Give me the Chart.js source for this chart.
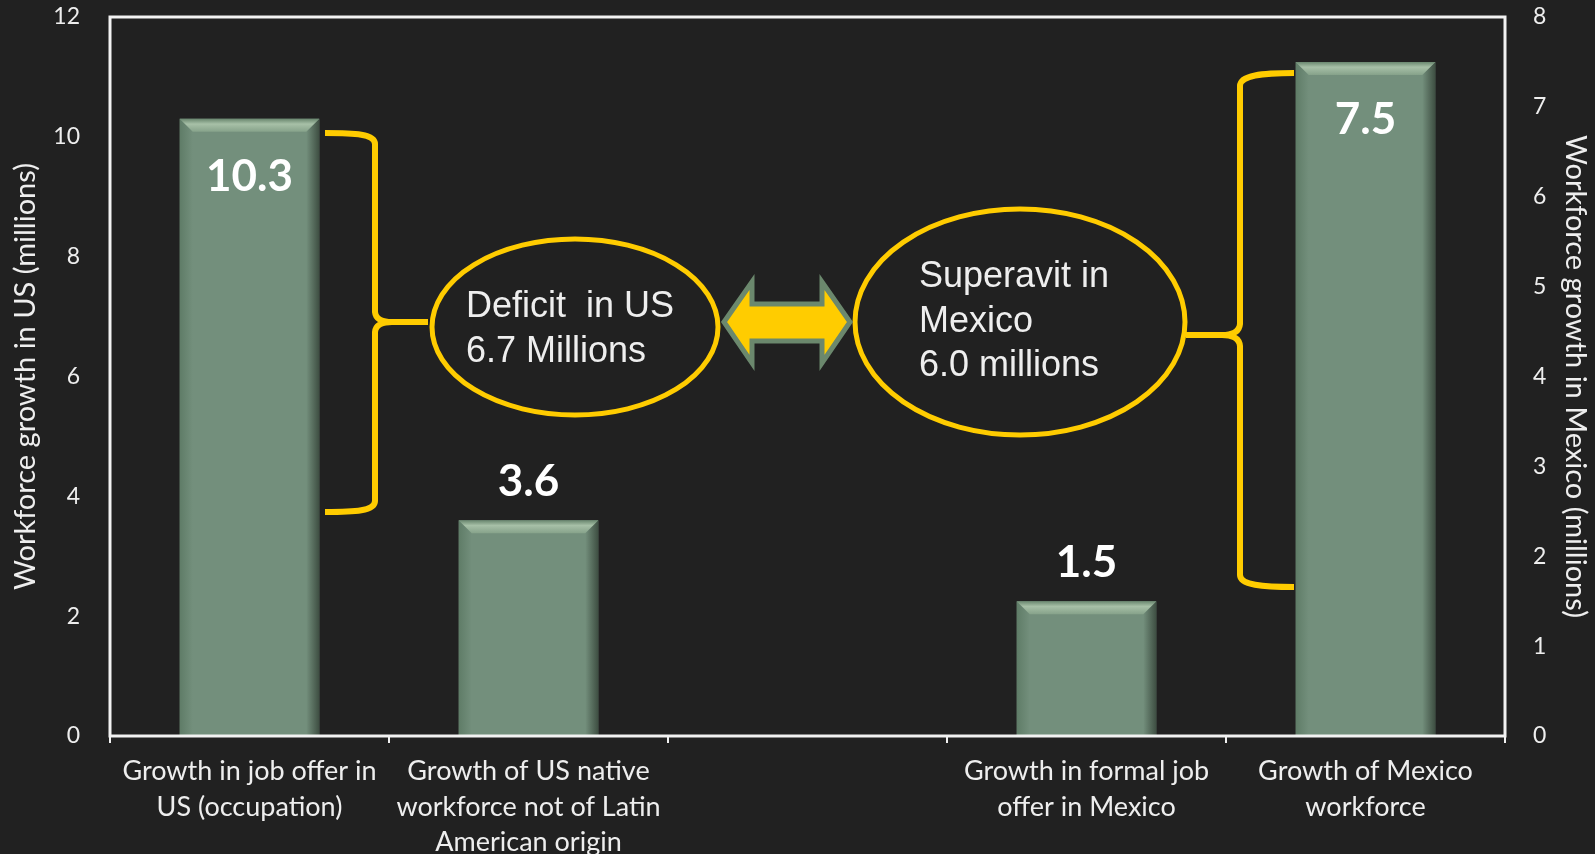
<!DOCTYPE html>
<html>
<head>
<meta charset="utf-8">
<title>Workforce growth: US vs Mexico</title>
<script src="https://cdn.jsdelivr.net/npm/chart.js@4/dist/chart.umd.min.js"></script>
<style>
  html, body { margin: 0; padding: 0; background: #212121; }
  #wrap { width: 1595px; height: 854px; }
</style>
</head>
<body>
<div id="wrap"><canvas id="chart" width="1595" height="854"></canvas></div>
<script>
// Categories (the middle slot is an intentional gap between the two countries)
const categories = [
  ['Growth in job offer in', 'US (occupation)'],
  ['Growth of US native', 'workforce not of Latin', 'American origin'],
  '',
  ['Growth in formal job', 'offer in Mexico'],
  ['Growth of Mexico', 'workforce']
];

// Millions of workers; US bars use the left axis, Mexico bars the right axis
const usGrowth = [10.3, 3.6, null, null, null];
const mexicoGrowth = [null, null, null, 1.5, 7.5];

// Axis ranges
const usAxis = { min: 0, max: 12, step: 2 };
const mexicoAxis = { min: 0, max: 8, step: 1 };

// Callout texts
const deficitText = ['Deficit  in US', '6.7 Millions'];
const superavitText = ['Superavit in', 'Mexico', '6.0 millions'];

const BG = '#212121';
const BAR = '#738f7c';
const GOLD = '#ffcc00';
const TEXT = '#eeeeee';

const bgPlugin = {
  id: 'bg',
  beforeDraw(chart) {
    const ctx = chart.ctx;
    ctx.save();
    ctx.fillStyle = BG;
    ctx.fillRect(0, 0, chart.width, chart.height);
    ctx.restore();
  }
};

// Bevelled look for the bars plus the value labels
const barStylePlugin = {
  id: 'barStyle',
  afterDatasetsDraw(chart) {
    const ctx = chart.ctx;
    chart.data.datasets.forEach((ds, di) => {
      const meta = chart.getDatasetMeta(di);
      meta.data.forEach((el, i) => {
        const v = ds.data[i];
        if (v === null || v === undefined) return;
        const { x, y, base, width } = el.getProps(['x', 'y', 'base', 'width'], true);
        const l = x - width / 2, r = x + width / 2;
        const b = 13;
        ctx.save();
        // left edge
        let g = ctx.createLinearGradient(l, 0, l + b, 0);
        g.addColorStop(0, '#5f7c67');
        g.addColorStop(1, BAR);
        ctx.fillStyle = g;
        ctx.beginPath();
        ctx.moveTo(l, y); ctx.lineTo(l + b, y + b); ctx.lineTo(l + b, base); ctx.lineTo(l, base);
        ctx.closePath(); ctx.fill();
        // right edge
        g = ctx.createLinearGradient(r - b, 0, r, 0);
        g.addColorStop(0, BAR);
        g.addColorStop(1, '#3e4e42');
        ctx.fillStyle = g;
        ctx.beginPath();
        ctx.moveTo(r, y); ctx.lineTo(r - b, y + b); ctx.lineTo(r - b, base); ctx.lineTo(r, base);
        ctx.closePath(); ctx.fill();
        // top edge
        g = ctx.createLinearGradient(0, y, 0, y + b);
        g.addColorStop(0, '#6a876f');
        g.addColorStop(0.4, '#a7c0a7');
        g.addColorStop(1, '#86a28a');
        ctx.fillStyle = g;
        ctx.beginPath();
        ctx.moveTo(l, y); ctx.lineTo(r, y); ctx.lineTo(r - b, y + b); ctx.lineTo(l + b, y + b);
        ctx.closePath(); ctx.fill();
        // value label
        const tall = (base - y) > 300;
        ctx.fillStyle = '#ffffff';
        ctx.font = 'bold 44px Lato';
        ctx.textAlign = 'center';
        ctx.textBaseline = 'middle';
        ctx.fillText(v.toFixed(1), x, tall ? y + 58 : y - 38);
        ctx.restore();
      });
    });
  }
};

// Plot frame, braces, ellipses and the double arrow
const calloutPlugin = {
  id: 'callouts',
  afterDraw(chart) {
    const ctx = chart.ctx;
    const a = chart.chartArea;
    ctx.save();
    // frame
    ctx.strokeStyle = '#f2f2f2';
    ctx.lineWidth = 3;
    ctx.strokeRect(a.left, a.top, a.right - a.left, a.bottom - a.top);

    ctx.strokeStyle = GOLD;
    ctx.lineWidth = 6;
    ctx.lineCap = 'butt';
    ctx.lineJoin = 'round';
    // left brace
    ctx.beginPath();
    ctx.moveTo(325, 133);
    ctx.bezierCurveTo(355, 133, 375, 134, 375, 144);
    ctx.lineTo(375, 312);
    ctx.quadraticCurveTo(376, 322, 392, 322);
    ctx.lineTo(428, 322);
    ctx.moveTo(392, 322);
    ctx.quadraticCurveTo(376, 322, 375, 332);
    ctx.lineTo(375, 501);
    ctx.bezierCurveTo(375, 511, 355, 512, 325, 512);
    ctx.stroke();
    // right brace
    ctx.beginPath();
    ctx.moveTo(1294, 73);
    ctx.bezierCurveTo(1262, 73, 1240, 75, 1240, 86);
    ctx.lineTo(1240, 324);
    ctx.quadraticCurveTo(1239, 335, 1222, 335);
    ctx.lineTo(1186, 335);
    ctx.moveTo(1222, 335);
    ctx.quadraticCurveTo(1239, 335, 1240, 346);
    ctx.lineTo(1240, 575);
    ctx.bezierCurveTo(1240, 585, 1262, 587, 1294, 587);
    ctx.stroke();

    // ellipses
    ctx.lineWidth = 5;
    ctx.beginPath();
    ctx.ellipse(575, 327, 143, 88, 0, 0, Math.PI * 2);
    ctx.stroke();
    ctx.beginPath();
    ctx.ellipse(1020, 322, 165, 113, 0, 0, Math.PI * 2);
    ctx.stroke();

    // double arrow
    ctx.beginPath();
    ctx.moveTo(724, 322);
    ctx.lineTo(752, 282);
    ctx.lineTo(752, 304);
    ctx.lineTo(822, 304);
    ctx.lineTo(822, 282);
    ctx.lineTo(850, 322);
    ctx.lineTo(822, 363);
    ctx.lineTo(822, 341);
    ctx.lineTo(752, 341);
    ctx.lineTo(752, 363);
    ctx.closePath();
    ctx.fillStyle = GOLD;
    ctx.fill();
    ctx.lineJoin = 'miter';
    ctx.lineWidth = 5;
    ctx.strokeStyle = '#6b886d';
    ctx.stroke();

    // callout texts
    ctx.fillStyle = TEXT;
    ctx.font = '36px "Liberation Sans"';
    ctx.textAlign = 'left';
    ctx.textBaseline = 'alphabetic';
    deficitText.forEach((t, i) => ctx.fillText(t, 466, 317 + i * 45));
    superavitText.forEach((t, i) => ctx.fillText(t, 919, 287 + i * 44.5));
    ctx.restore();
  }
};

const tickFont = { family: 'Lato', size: 23 };
const titleFont = { family: 'Lato', size: 29 };

// keep the vertical axes from reserving extra room above/below the plot
function fixVertical(width) {
  return function (s) {
    s.width = width;
    s.paddingTop = 0;
    s.paddingBottom = 0;
  };
}

new Chart(document.getElementById('chart'), {
  type: 'bar',
  data: {
    labels: categories,
    datasets: [
      { label: 'US', data: usGrowth, yAxisID: 'y', backgroundColor: BAR, borderWidth: 0 },
      { label: 'Mexico', data: mexicoGrowth, yAxisID: 'y1', backgroundColor: BAR, borderWidth: 0 }
    ]
  },
  options: {
    responsive: false,
    devicePixelRatio: 1,
    animation: false,
    layout: { padding: { top: 17, left: 0, right: 0, bottom: 0 } },
    datasets: { bar: { grouped: false, categoryPercentage: 1, barPercentage: 0.5 } },
    plugins: { legend: { display: false }, tooltip: { enabled: false } },
    scales: {
      x: {
        grid: { display: true, drawOnChartArea: false, color: '#f2f2f2', lineWidth: 2, tickLength: 7, offset: true },
        border: { display: false },
        ticks: { color: TEXT, font: { family: 'Lato', size: 27, lineHeight: '35.5px' }, padding: 11, maxRotation: 0, autoSkip: false },
        afterFit(s) { s.height = 118; s.paddingLeft = 0; s.paddingRight = 0; }
      },
      y: {
        position: 'left',
        min: usAxis.min, max: usAxis.max,
        ticks: { stepSize: usAxis.step, color: TEXT, font: tickFont, padding: 30 },
        grid: { display: false, drawTicks: false },
        border: { display: false },
        title: { display: true, text: 'Workforce growth in US (millions)', color: TEXT, font: titleFont, padding: { top: 8, bottom: 0 } },
        afterFit: fixVertical(110)
      },
      y1: {
        position: 'right',
        min: mexicoAxis.min, max: mexicoAxis.max,
        ticks: { stepSize: mexicoAxis.step, color: TEXT, font: tickFont, padding: 28 },
        grid: { display: false, drawTicks: false },
        border: { display: false },
        title: { display: true, text: 'Workforce growth in Mexico (millions)', color: TEXT, font: titleFont, padding: { top: 2, bottom: 0 } },
        afterFit: fixVertical(90)
      }
    }
  },
  plugins: [bgPlugin, barStylePlugin, calloutPlugin]
});
</script>
</body>
</html>
